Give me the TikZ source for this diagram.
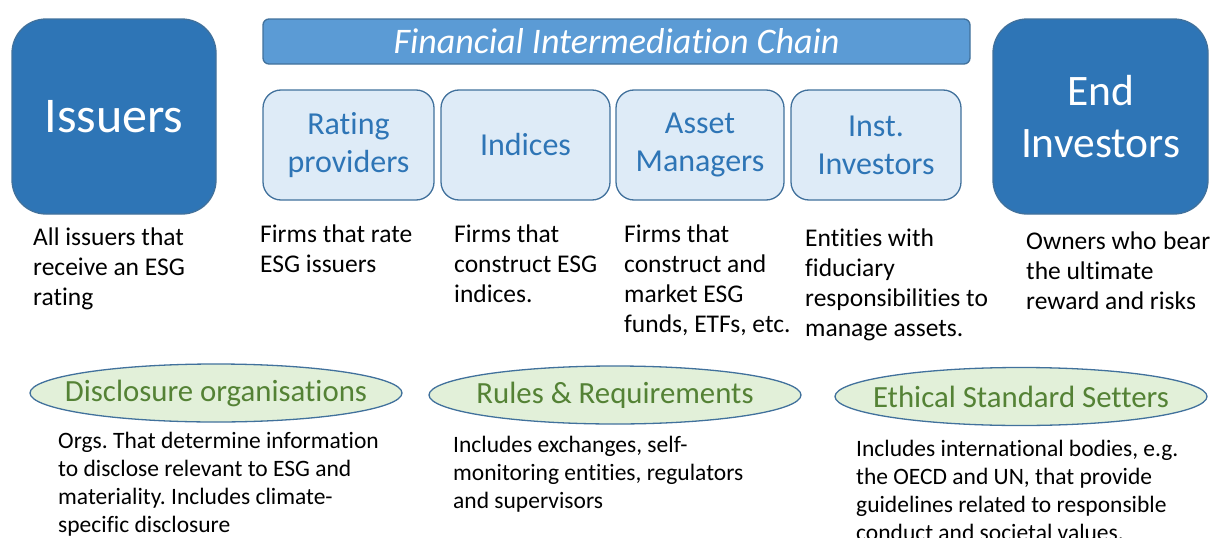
\documentclass[tikz,border=0pt]{standalone}
\usepackage{fontspec}
\setmainfont[Ligatures=NoCommon]{Carlito}
\usetikzlibrary{shapes.geometric}
\definecolor{darkblue}{HTML}{2E75B6}
\definecolor{bordblue}{HTML}{41719C}
\definecolor{midblue}{HTML}{5B9BD5}
\definecolor{lightblue}{HTML}{DEEBF7}
\definecolor{lightgreen}{HTML}{E2F0D9}
\definecolor{textgreen}{HTML}{548235}
\frenchspacing
\tikzset{
  bigbox/.style={draw=bordblue, line width=1.3pt, fill=darkblue, rounded corners=34pt,
    minimum width=204pt, minimum height=195pt, inner sep=0pt, text=white, align=center},
  chainbox/.style={draw=bordblue, line width=1.3pt, fill=lightblue, rounded corners=18pt,
    minimum width=170pt, minimum height=110pt, inner sep=0pt, text=darkblue, align=center,
    font=\fontsize{32}{38}\selectfont},
  banner/.style={draw=bordblue, line width=1.3pt, fill=midblue, rounded corners=6pt,
    minimum width=707pt, minimum height=45pt, inner sep=0pt, text=white,
    font=\fontsize{36}{40}\selectfont\itshape},
  oval/.style={ellipse, draw=bordblue, line width=1.3pt, fill=lightgreen,
    minimum width=372pt, minimum height=58pt, inner sep=0pt},
  ovaltext/.style={inner sep=0pt, text=textgreen, font=\fontsize{30.8}{34}\selectfont},
  desc/.style={anchor=base west, inner sep=0pt, align=left, text=black,
    font=\fontsize{25.5}{30}\selectfont},
  descb/.style={anchor=base west, inner sep=0pt, align=left, text=black,
    font=\fontsize{23.5}{28}\selectfont}
}
\begin{document}
\begin{tikzpicture}[x=1pt,y=-1pt]
\useasboundingbox (0,0) rectangle (1213,538);
% big boxes
\node[bigbox, font=\fontsize{50}{60}\selectfont] (issuers) at (114,116.5) {Issuers};
\node[bigbox, minimum width=215pt, font=\fontsize{43.5}{52}\selectfont] (end) at (1100.5,116.5) {End\\Investors};
% banner
\node[banner] (chain) at (616.5,41.5) {Financial Intermediation Chain};
% chain boxes
\node[chainbox, minimum width=171pt] (rating) at (348.5,145) {Rating\\providers};
\node[chainbox, minimum width=169pt] (indices) at (525.5,145) {Indices};
\node[chainbox, minimum width=168pt] (asset) at (700,145) {Asset\\Managers};
\node[chainbox, minimum width=170pt] (inst) at (876,145) {Inst.\\Investors};
% descriptions (anchor = baseline of last line)
\node[desc] (d1) at (33,305) {All issuers that\\receive an ESG\\rating};
\node[desc] (d2) at (260,272) {Firms that rate\\ESG issuers};
\node[desc] (d3) at (454,302) {Firms that\\construct ESG\\indices.};
\node[desc] (d4) at (624,332) {Firms that\\construct and\\market ESG\\funds, ETFs, etc.};
\node[desc] (d5) at (805,336) {Entities with\\fiduciary\\responsibilities to\\manage assets.};
\node[desc] (d6) at (1026,309) {Owners who\hspace{6.5pt}bear\\the ultimate\\reward and risks};
% ovals
\node[oval] (disc) at (216,393) {};
\node[ovaltext] (disct) at (disc.center) {Disclosure organisations};
\node[oval] (rules) at (615,395) {};
\node[ovaltext] (rulest) at (rules.center) {Rules \& Requirements};
\node[oval] (eth) at (1021,396.5) {};
\node[ovaltext] (etht) at (eth.center) {Ethical Standard Setters};
% bottom descriptions
\node[descb] (b1) at (58,532) {Orgs. That determine information\\to disclose relevant to ESG and\\materiality. Includes climate-\\specific disclosure};
\node[descb] (b2) at (453,508) {Includes exchanges, self-\\monitoring entities, regulators\\and supervisors};
\node[descb] (b3) at (856,540) {Includes international bodies, e.g.\\the OECD and UN, that provide\\guidelines related to responsible\\conduct and societal values.};
\end{tikzpicture}
\end{document}
